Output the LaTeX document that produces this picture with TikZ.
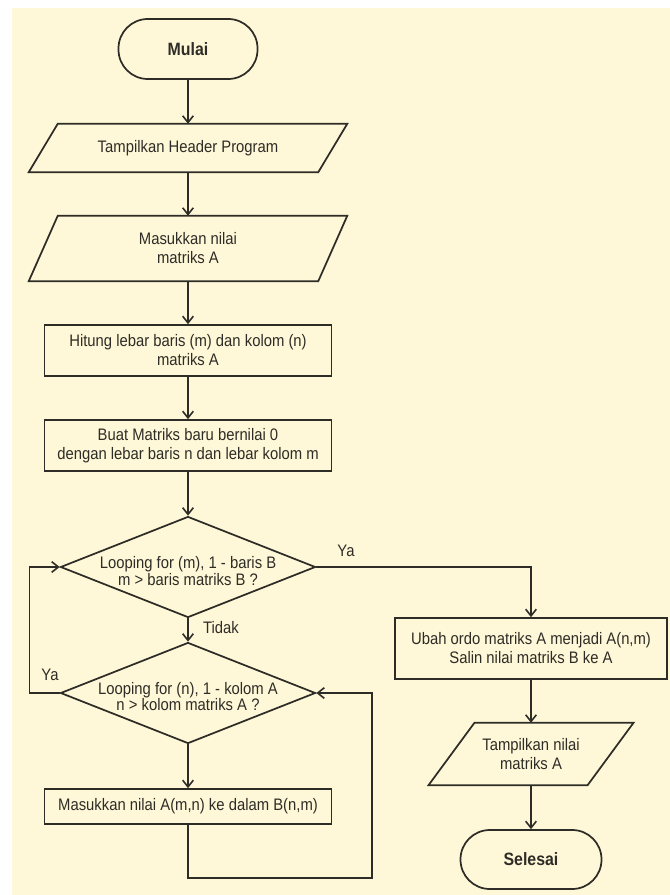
\documentclass[tikz,border=0pt]{standalone}
\usepackage{fontspec}
\setmainfont{Liberation Sans}[FakeStretch=0.89]
\usetikzlibrary{shapes.geometric,arrows.meta}
\definecolor{paper}{HTML}{FFF8D8}
\definecolor{ink}{HTML}{2E2C26}

% parallelogram drawn around a (hidden) rectangular node
\newcommand{\ioshape}[2]{%
  \draw[line] ([xshift=#2]#1.north west) -- ([xshift=#2]#1.north east)
    -- ([xshift=-#2]#1.south east) -- ([xshift=-#2]#1.south west) -- cycle;}

\begin{document}
\begin{tikzpicture}[x=0.75pt,y=-0.75pt,
  font=\fontsize{12.5}{14.2}\selectfont, text=ink,
  line/.style={draw=ink, line width=1.3pt},
  flow/.style={line, -{Straight Barb[length=5pt,width=8pt,line width=1.2pt]}},
  term/.style={line, rounded corners=22pt, minimum height=45pt, inner sep=0,
    font=\fontsize{13.4}{15}\selectfont\bfseries},
  procbox/.style={line, minimum width=215.25pt, align=center, inner sep=0},
  iobox/.style={align=center, inner sep=0},
  decision/.style={line, diamond, minimum width=191.25pt, minimum height=75.75pt, inner sep=0},
  dtext/.style={align=center, font=\fontsize{12.5}{12.6}\selectfont},
  lbl/.style={inner sep=0},
]
\useasboundingbox (0,0) rectangle (670,895);
\fill[white] (0,0) rectangle (670,895);
\fill[paper] (12,8) rectangle (670,895);

% left column
\node[term, minimum width=104.25pt] (mulai) at (188,49) {Mulai};
\node[iobox, minimum width=216.75pt, minimum height=36pt] (p1) at (188,148) {Tampilkan Header Program};
\ioshape{p1}{10.9pt}
\node[iobox, minimum width=216.75pt, minimum height=48.75pt] (p2) at (188,248.5) {Masukkan nilai\\matriks A};
\ioshape{p2}{10.9pt}
\node[procbox, minimum height=38.25pt] (b3) at (188,350.5) {Hitung lebar baris (m) dan kolom (n)\\matriks A};
\node[procbox, minimum height=38.25pt] (b4) at (188,445.5) {Buat Matriks baru bernilai 0\\dengan lebar baris n dan lebar kolom m};
\node[decision] (d1) at (188,567) {};
\node[dtext] (d1t) at (188,571) {Looping for (m), 1 - baris B\\m > baris matriks B ?};
\node[decision] (d2) at (188,693) {};
\node[dtext] (d2t) at (188,696.5) {Looping for (n), 1 - kolom A\\n > kolom matriks A ?};
\node[procbox, minimum height=26.25pt] (b6) at (188,806.5) {Masukkan nilai A(m,n) ke dalam B(n,m)};

% right column
\node[procbox, minimum width=204pt, minimum height=45.75pt] (b5) at (531,648.5) {Ubah ordo matriks A menjadi A(n,m)\\Salin nilai matriks B ke A};
\node[iobox, minimum width=118.9pt, minimum height=46.5pt] (p3) at (531,754) {Tampilkan nilai\\matriks A};
\ioshape{p3}{17.25pt}
\node[term, minimum width=105.75pt, minimum height=44.25pt] (selesai) at (531,859.5) {Selesai};

% labels
\node[lbl] (ya1) at (346,551) {Ya};
\node[lbl] (tidak) at (221,628) {Tidak};
\node[lbl] (ya2) at (50,675) {Ya};

% loop corners
\coordinate (lp) at (29.5,630);
\coordinate (rp) at (372,878);

% connectors
\draw[flow] (mulai) -- (p1);
\draw[flow] (p1) -- (p2);
\draw[flow] (p2) -- (b3);
\draw[flow] (b3) -- (b4);
\draw[flow] (b4) -- (d1);
\draw[flow] (d1.south) -- (d2.north);
\draw[flow] (d2.south) -- (b6.north);
\draw[flow] (d1.east) -| (b5.north);
\draw[flow] (d2.west) -| (lp) |- (d1.west);
\draw[flow] (b6.south) |- (rp) |- (d2.east);
\draw[flow] (b5) -- (p3);
\draw[flow] (p3) -- (selesai);
\end{tikzpicture}
\end{document}
